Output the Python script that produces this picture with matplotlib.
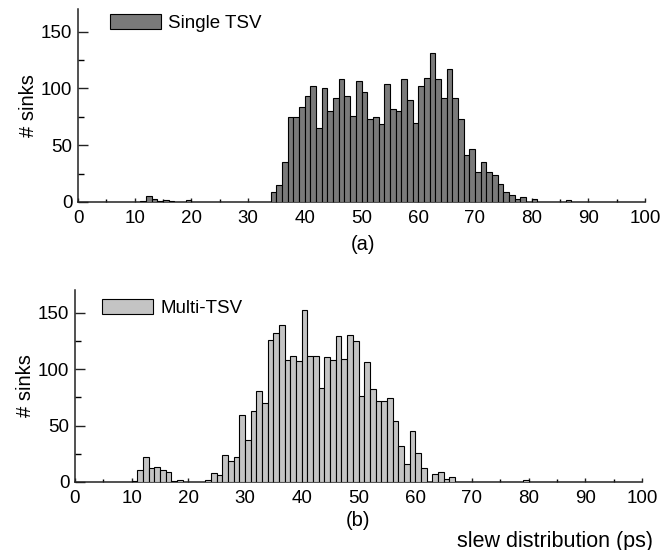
import matplotlib
matplotlib.use("Agg")
import matplotlib.pyplot as plt
from matplotlib.ticker import MultipleLocator

plt.rcParams['font.family'] = ['Liberation Sans', 'DejaVu Sans']

# Single TSV histogram (bin start in ps -> count)
single_bins = [11, 12, 13, 14, 15, 16, 19,
               34, 35, 36, 37, 38, 39, 40, 41, 42, 43, 44, 45, 46, 47, 48, 49,
               50, 51, 52, 53, 54, 55, 56, 57, 58, 59, 60, 61, 62, 63, 64, 65,
               66, 67, 68, 69, 70, 71, 72, 73, 74, 75, 76, 77, 78, 80, 86]
single_counts = [1, 5, 3, 1, 2, 1, 2,
                 9, 15, 35, 75, 75, 84, 93, 102, 65, 100, 80, 92, 108, 93, 76, 107,
                 97, 73, 75, 69, 104, 82, 80, 108, 90, 70, 102, 109, 131, 108, 92, 117,
                 92, 73, 41, 47, 26, 35, 26, 24, 16, 9, 6, 3, 4, 3, 2]

# Multi-TSV histogram
multi_bins = [10, 11, 12, 13, 14, 15, 16, 17, 18,
              23, 24, 25, 26, 27, 28, 29, 30, 31, 32, 33, 34, 35, 36, 37, 38, 39,
              40, 41, 42, 43, 44, 45, 46, 47, 48, 49, 50, 51, 52, 53, 54, 55, 56,
              57, 58, 59, 60, 61, 63, 64, 65, 66, 79]
multi_counts = [1, 11, 22, 12, 13, 11, 9, 1, 2,
                2, 8, 6, 24, 19, 22, 59, 37, 63, 81, 70, 126, 132, 139, 108, 112, 107,
                152, 112, 112, 83, 111, 108, 129, 109, 130, 125, 76, 106, 82, 72, 72, 74, 54,
                32, 16, 45, 26, 12, 7, 9, 3, 4, 2]

x_ticks = [0, 10, 20, 30, 40, 50, 60, 70, 80, 90, 100]
y_ticks = [0, 50, 100, 150]

W, H = 662, 550
fig = plt.figure(figsize=(W / 100, H / 100), dpi=100)

FS = 13.5
FL = 14.5

def px_axes(left, right, bottom, top):
    return fig.add_axes([left / W, 1 - bottom / H, (right - left) / W, (bottom - top) / H])

ax1 = px_axes(78, 645, 202, 9)
ax2 = px_axes(75, 642, 482, 290)

def style(ax):
    ax.set_xlim(0, 100)
    ax.set_ylim(0, 170)
    for s in ['top', 'right']:
        ax.spines[s].set_visible(False)
    for s in ['left', 'bottom']:
        ax.spines[s].set_linewidth(1.1)
        ax.spines[s].set_color('#222222')
    ax.set_xticks(x_ticks)
    ax.set_yticks(y_ticks)
    ax.xaxis.set_minor_locator(MultipleLocator(5))
    ax.yaxis.set_minor_locator(MultipleLocator(25))
    ax.tick_params(axis='both', which='major', direction='in', labelsize=FS, color='#222222')
    ax.tick_params(axis='x', which='major', length=3, width=1, pad=6)
    ax.tick_params(axis='x', which='minor', direction='in', length=2, width=1)
    ax.tick_params(axis='y', which='major', length=7, width=1, pad=4)
    ax.tick_params(axis='y', which='minor', direction='in', length=4, width=1)
    ax.set_ylabel('# sinks', fontsize=FL, labelpad=2)

ax1.bar(single_bins, single_counts, width=1, align='edge', color='#7a7a7a',
        edgecolor='black', linewidth=0.8, label='Single TSV', zorder=3)
ax2.bar(multi_bins, multi_counts, width=1, align='edge', color='#c4c4c4',
        edgecolor='black', linewidth=0.8, label='Multi-TSV', zorder=3)
style(ax1)
style(ax2)

ax1.legend(loc='upper left', bbox_to_anchor=(110 / W, 1 - 14 / H), bbox_transform=fig.transFigure,
           frameon=False, fontsize=FS, handlelength=2.7, handleheight=0.85,
           handletextpad=0.4, borderpad=0, borderaxespad=0)
ax2.legend(loc='upper left', bbox_to_anchor=(102 / W, 1 - 299 / H), bbox_transform=fig.transFigure,
           frameon=False, fontsize=FS, handlelength=2.7, handleheight=0.85,
           handletextpad=0.4, borderpad=0, borderaxespad=0)

fig.text(363 / W, 1 - 245 / H, '(a)', fontsize=FL, ha='center', va='center')
fig.text(358 / W, 1 - 521 / H, '(b)', fontsize=FL, ha='center', va='center')
fig.text(555 / W, 1 - 541 / H, 'slew distribution (ps)', fontsize=15.5, ha='center', va='center')

fig.savefig('out.png', dpi=100)
